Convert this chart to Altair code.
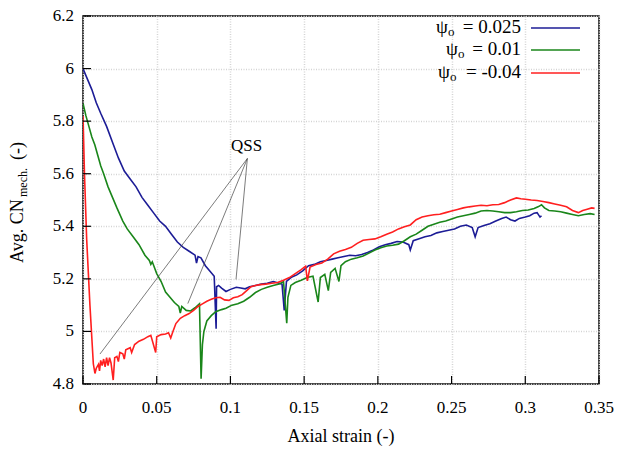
import altair as alt
import pandas as pd

# ---------------- data ----------------
x_ticks = [0, 0.05, 0.1, 0.15, 0.2, 0.25, 0.3, 0.35]
x_tick_labels = ["0", "0.05", "0.1", "0.15", "0.2", "0.25", "0.3", "0.35"]
y_ticks = [4.8, 5.0, 5.2, 5.4, 5.6, 5.8, 6.0, 6.2]
y_tick_labels = ["4.8", "5", "5.2", "5.4", "5.6", "5.8", "6", "6.2"]
x_title = "Axial strain (-)"

series_names = ["ψo = 0.025", "ψo = 0.01", "ψo = -0.04"]
legend_values = ["= 0.025", "= 0.01", "= -0.04"]
series_colors = ["#1c1c96", "#1a861a", "#ff1f1f"]

strain_blue = [0.000, 0.003, 0.006, 0.009, 0.012, 0.016, 0.020, 0.024, 0.028, 0.032,
               0.036, 0.040, 0.044, 0.048, 0.052, 0.056, 0.060, 0.064, 0.068, 0.072,
               0.076, 0.077, 0.078, 0.080, 0.083, 0.086, 0.089, 0.0903, 0.0906, 0.092,
               0.094, 0.097, 0.100, 0.104, 0.107, 0.110, 0.113, 0.117, 0.121, 0.125,
               0.129, 0.132, 0.135, 0.1365, 0.138, 0.141, 0.145, 0.149, 0.153, 0.157,
               0.161, 0.165, 0.169, 0.173, 0.177, 0.181, 0.185, 0.189, 0.193, 0.197,
               0.201, 0.205, 0.209, 0.213, 0.217, 0.221, 0.222, 0.224, 0.228, 0.232,
               0.236, 0.240, 0.244, 0.248, 0.252, 0.256, 0.260, 0.264, 0.266, 0.268,
               0.272, 0.276, 0.280, 0.284, 0.287, 0.290, 0.293, 0.296, 0.300, 0.303,
               0.306, 0.308, 0.310, 0.311]
cn_blue = [6.000, 5.960, 5.920, 5.870, 5.830, 5.780, 5.720, 5.660, 5.610, 5.580,
           5.550, 5.510, 5.480, 5.450, 5.420, 5.400, 5.370, 5.340, 5.320, 5.305,
           5.290, 5.260, 5.285, 5.280, 5.250, 5.230, 5.210, 5.010, 5.170, 5.175,
           5.165, 5.152, 5.160, 5.168, 5.165, 5.162, 5.170, 5.175, 5.180, 5.183,
           5.190, 5.185, 5.180, 5.080, 5.190, 5.205, 5.215, 5.230, 5.250, 5.255,
           5.265, 5.270, 5.275, 5.280, 5.285, 5.290, 5.288, 5.293, 5.300, 5.310,
           5.322, 5.330, 5.335, 5.342, 5.340, 5.330, 5.310, 5.345, 5.353, 5.360,
           5.365, 5.375, 5.380, 5.385, 5.390, 5.400, 5.405, 5.395, 5.360, 5.395,
           5.403, 5.410, 5.420, 5.430, 5.435, 5.425, 5.420, 5.430, 5.435, 5.440,
           5.450, 5.452, 5.435, 5.440]

strain_green = [0.000, 0.002, 0.004, 0.006, 0.008, 0.010, 0.012, 0.014, 0.017, 0.020,
                0.023, 0.027, 0.030, 0.034, 0.038, 0.042, 0.045, 0.046, 0.047, 0.050,
                0.053, 0.056, 0.059, 0.062, 0.065, 0.066, 0.067, 0.070, 0.073, 0.076,
                0.079, 0.0801, 0.081, 0.082, 0.084, 0.087, 0.090, 0.094, 0.097, 0.101,
                0.105, 0.109, 0.113, 0.117, 0.121, 0.125, 0.129, 0.133, 0.136, 0.1382,
                0.139, 0.141, 0.144, 0.148, 0.152, 0.156, 0.1595, 0.161, 0.164, 0.1664,
                0.168, 0.171, 0.1736, 0.175, 0.178, 0.182, 0.186, 0.190, 0.194, 0.198,
                0.202, 0.206, 0.210, 0.214, 0.218, 0.222, 0.226, 0.230, 0.234, 0.238,
                0.242, 0.246, 0.250, 0.254, 0.258, 0.262, 0.266, 0.270, 0.274, 0.278,
                0.282, 0.286, 0.290, 0.294, 0.298, 0.302, 0.306, 0.309, 0.311, 0.313,
                0.316, 0.320, 0.324, 0.328, 0.332, 0.336, 0.340, 0.344, 0.347]
cn_green = [5.867, 5.820, 5.780, 5.740, 5.710, 5.670, 5.630, 5.600, 5.550, 5.510,
            5.470, 5.420, 5.390, 5.360, 5.330, 5.290, 5.270, 5.255, 5.265, 5.220,
            5.190, 5.150, 5.130, 5.110, 5.095, 5.070, 5.095, 5.080, 5.078, 5.090,
            5.105, 4.820, 4.950, 5.000, 5.040, 5.060, 5.075, 5.083, 5.088, 5.100,
            5.105, 5.115, 5.130, 5.148, 5.160, 5.168, 5.175, 5.180, 5.190, 5.031,
            5.130, 5.175, 5.186, 5.195, 5.205, 5.210, 5.112, 5.205, 5.217, 5.155,
            5.225, 5.240, 5.190, 5.250, 5.265, 5.275, 5.280, 5.287, 5.298, 5.310,
            5.318, 5.325, 5.328, 5.332, 5.345, 5.360, 5.370, 5.385, 5.400, 5.408,
            5.415, 5.420, 5.428, 5.435, 5.440, 5.445, 5.450, 5.458, 5.460, 5.458,
            5.455, 5.452, 5.452, 5.455, 5.460, 5.462, 5.468, 5.475, 5.482, 5.470,
            5.460, 5.458, 5.455, 5.450, 5.445, 5.440, 5.445, 5.448, 5.445]

strain_red = [0.000, 0.001, 0.0025, 0.0047, 0.007, 0.0081, 0.009, 0.0105, 0.0112, 0.012,
              0.013, 0.014, 0.015, 0.016, 0.017, 0.018, 0.019, 0.0205, 0.0215, 0.023,
              0.024, 0.025, 0.027, 0.028, 0.029, 0.032, 0.033, 0.035, 0.038, 0.041,
              0.044, 0.046, 0.0493, 0.050, 0.053, 0.056, 0.058, 0.0595, 0.061, 0.063,
              0.066, 0.069, 0.072, 0.075, 0.078, 0.081,
              0.084, 0.087, 0.090, 0.093, 0.096, 0.099, 0.102, 0.105, 0.108, 0.111,
              0.114, 0.117, 0.120, 0.124, 0.128, 0.132, 0.136, 0.140, 0.144, 0.148,
              0.151, 0.1522, 0.154, 0.158, 0.162, 0.166, 0.170, 0.174, 0.178, 0.182,
              0.186, 0.190, 0.194, 0.198, 0.202, 0.206, 0.210, 0.214, 0.218, 0.222,
              0.226, 0.230, 0.234, 0.238, 0.242, 0.246, 0.250, 0.254, 0.258, 0.262,
              0.266, 0.270, 0.274, 0.278, 0.282, 0.286, 0.290, 0.294, 0.297, 0.300,
              0.304, 0.308, 0.312, 0.316, 0.320, 0.324, 0.328, 0.332, 0.336, 0.339,
              0.342, 0.345, 0.347]
cn_red = [5.820, 5.600, 5.350, 5.100, 4.877, 4.840, 4.860, 4.875, 4.850, 4.890,
          4.870, 4.895, 4.865, 4.900, 4.870, 4.900, 4.880, 4.815, 4.900, 4.905,
          4.885, 4.920, 4.915, 4.895, 4.930, 4.938, 4.920, 4.950, 4.963, 4.970,
          4.980, 4.985, 4.920, 4.980, 4.988, 4.990, 4.995, 4.975, 5.000, 5.030,
          5.050, 5.060, 5.068, 5.080, 5.095, 5.105,
          5.115, 5.122, 5.128, 5.130, 5.120, 5.118, 5.128, 5.132, 5.140, 5.155,
          5.170, 5.175, 5.178, 5.180, 5.183, 5.186, 5.195, 5.205, 5.220, 5.235,
          5.248, 5.192, 5.245, 5.255, 5.260, 5.275, 5.295, 5.305, 5.312, 5.320,
          5.335, 5.347, 5.350, 5.352, 5.360, 5.370, 5.378, 5.390, 5.398, 5.405,
          5.425, 5.435, 5.440, 5.444, 5.446, 5.452, 5.458, 5.464, 5.470, 5.474,
          5.477, 5.480, 5.478, 5.482, 5.483, 5.490, 5.500, 5.508, 5.505, 5.503,
          5.500, 5.498, 5.494, 5.490, 5.485, 5.480, 5.474, 5.460, 5.452, 5.460,
          5.465, 5.470, 5.468]

# QSS annotation: apex and the three points it points to
qss_label = "QSS"
qss_apex = (0.1115, 5.658)
qss_label_pos = (0.1109, 5.706)
qss_targets_x = [0.0115, 0.0711, 0.1038]
qss_targets_y = [4.914, 5.106, 5.198]

# ---------------- chart ----------------
W, H = 516, 368
TOP = 8
LEFT = 75
FONT = "Liberation Serif"

x_scale = alt.Scale(domain=[0, 0.35], nice=False, zero=False)
y_scale = alt.Scale(domain=[4.8, 6.2], nice=False, zero=False)

x_axis = alt.Axis(values=x_ticks, labels=False, title=None)
y_axis = alt.Axis(values=y_ticks, labels=False, title=None)


def X(field):
    return alt.X(field, scale=x_scale, axis=x_axis)


def Y(field):
    return alt.Y(field, scale=y_scale, axis=y_axis)


def series_df(xs, ys, name):
    return pd.DataFrame({"strain": xs, "cn": ys, "series": name})


def line_layer(df, color):
    return alt.Chart(df).mark_line(color=color, strokeWidth=1.6, clip=True).encode(
        x=X("strain:Q"), y=Y("cn:Q"))


blue = line_layer(series_df(strain_blue, cn_blue, series_names[0]), series_colors[0])
green = line_layer(series_df(strain_green, cn_green, series_names[1]), series_colors[1])
red = line_layer(series_df(strain_red, cn_red, series_names[2]), series_colors[2])

# inner ticks
xt = alt.Chart(pd.DataFrame({"v": x_ticks})).mark_rule(color="black", strokeWidth=1.2).encode(
    x=X("v:Q"), y=alt.value(H), y2=alt.value(H - 8))
yt = alt.Chart(pd.DataFrame({"v": y_ticks})).mark_rule(color="black", strokeWidth=1.2).encode(
    y=Y("v:Q"), x=alt.value(0), x2=alt.value(8))

# tick labels as serif text
xl = alt.Chart(pd.DataFrame({"v": x_ticks, "t": x_tick_labels})).mark_text(
    font=FONT, fontSize=17, color="black", align="center", baseline="middle").encode(
    x=X("v:Q"), y=alt.value(H + 24), text="t:N")
yl = alt.Chart(pd.DataFrame({"v": y_ticks, "t": y_tick_labels})).mark_text(
    font=FONT, fontSize=17, color="black", align="right", baseline="middle").encode(
    y=Y("v:Q"), x=alt.value(-9), text="t:N")

# QSS annotation
qss_df = pd.DataFrame({
    "x1": [qss_apex[0]] * 3, "y1": [qss_apex[1]] * 3,
    "x2": qss_targets_x, "y2": qss_targets_y,
})
qss_lines = alt.Chart(qss_df).mark_rule(color="#444444", strokeWidth=0.7).encode(
    x=X("x1:Q"), y=Y("y1:Q"), x2="x2:Q", y2="y2:Q")
qss_text = alt.Chart(pd.DataFrame({"x": [qss_label_pos[0]], "y": [qss_label_pos[1]],
                                   "t": [qss_label]})).mark_text(
    font=FONT, fontSize=17, color="black", align="center", baseline="middle").encode(
    x=X("x:Q"), y=Y("y:Q"), text="t:N")


def txt(t, x, y, size=18, align="left", angle=0, baseline="middle"):
    kw = dict(font=FONT, fontSize=size, color="black", align=align, baseline=baseline)
    if angle:
        kw["angle"] = angle
    return alt.Chart(pd.DataFrame({"t": [t]})).mark_text(**kw).encode(
        x=alt.value(x), y=alt.value(y), text="t:N")


# custom legend (text left, sample line right)
legend_layers = []
psi_x = [353, 363, 355]
row_y = [11, 33, 56]
for i in range(3):
    legend_layers.append(txt("ψ", psi_x[i], row_y[i], size=19))
    legend_layers.append(txt("o", psi_x[i] + 12, row_y[i] + 5, size=13))
    legend_layers.append(txt(legend_values[i], 438, row_y[i], size=19, align="right"))
    legend_layers.append(
        alt.Chart(pd.DataFrame({"s": [series_names[i]]})).mark_rule(
            color=series_colors[i], strokeWidth=1.6).encode(
            x=alt.value(448), x2=alt.value(497), y=alt.value(row_y[i] + 1)))

# axis titles
titles = [
    txt(x_title, W / 2, H + 53, size=18, align="center"),
    txt("Avg. CN", -65, 247, size=18, angle=270),
    txt("mech.", -60, 181, size=12, angle=270),
    txt("(-)", -65, 144, size=18, angle=270),
]

chart = alt.layer(
    blue, green, red, xt, yt, xl, yl, qss_lines, qss_text, *legend_layers, *titles
).properties(
    width=W, height=H, background="white",
    padding={"left": LEFT, "top": TOP, "right": 607 - LEFT - W, "bottom": 459 - 16 - H - TOP},
    autosize=alt.AutoSizeParams(type="none"),
).configure_view(stroke="black", strokeWidth=1.5).configure_axis(
    grid=True, gridColor="#d4d4d4", gridDash=[1, 1.5], gridWidth=1.5,
    ticks=False, domain=False, labels=False,
)

chart.save("out.html", embed_options={"renderer": "svg", "actions": False})
